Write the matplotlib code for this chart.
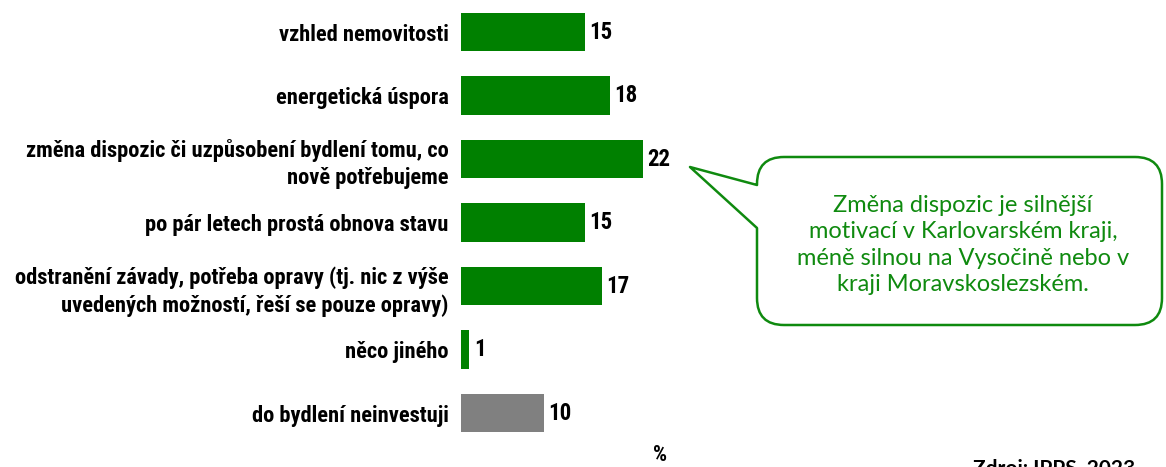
import matplotlib
matplotlib.use("Agg")
import matplotlib.pyplot as plt
from matplotlib import font_manager
from matplotlib.path import Path
from matplotlib.patches import PathPatch
import matplotlib.transforms as mtransforms

# data
categories = [
    "vzhled nemovitosti",
    "energetická úspora",
    "změna dispozic či uzpůsobení bydlení tomu, co\nnově potřebujeme",
    "po pár letech prostá obnova stavu",
    "odstranění závady, potřeba opravy (tj. nic z výše\nuvedených možností, řeší se pouze opravy)",
    "něco jiného",
    "do bydlení neinvestuji",
]
values = [15, 18, 22, 15, 17, 1, 10]
bar_colors = ["#008000"] * 6 + ["#808080"]
note = ("Změna dispozic je silnější\nmotivací v Karlovarském kraji,\n"
        "méně silnou na Vysočině nebo v\nkraji Moravskoslezském.")
source = "Zdroj: IPPS, 2023"

# pick a narrow heavy font if there is one
names = {f.name for f in font_manager.fontManager.ttflist}
cond = None
for cand in ["Roboto Condensed", "Open Sans Condensed", "Liberation Sans Narrow"]:
    if cand in names:
        cond = cand
        break
if cond is None:
    lab_font = dict(family="DejaVu Sans", fontstretch="condensed", fontweight="bold")
else:
    lab_font = dict(family=cond, fontweight="heavy")

W, H = 1166, 467
fig = plt.figure(figsize=(W / 100, H / 100), dpi=100)

px_per_unit = 8.27
xmax = 40
ax_left = 461
ax = fig.add_axes([ax_left / W, 22.25 / H, xmax * px_per_unit / W, 444.5 / H])
ypos = list(range(len(categories)))
ax.barh(ypos, values, height=0.61, color=bar_colors)
ax.set_xlim(0, xmax)
ax.set_ylim(len(categories) - 0.5, -0.5)
ax.set_yticks(ypos)
ax.set_yticklabels(categories, fontsize=16.2, linespacing=1.32, **lab_font)
ax.tick_params(axis="y", length=0, pad=9)
ax.set_xticks([])
for s in ax.spines.values():
    s.set_visible(False)
ax.patch.set_alpha(0)

for y, v in zip(ypos, values):
    ax.text(v + 0.55, y, str(v), va="center", ha="left", fontsize=16.5, **lab_font)

# "%" below the plot
fig.text(660 / W, 1 - 455 / H, "%", ha="center", va="center", fontsize=16, **lab_font)

# speech bubble callout, drawn in pixel coords (y from top)
pix = mtransforms.Affine2D().scale(1 / W, -1 / H).translate(0, 1) + fig.transFigure
L, R, T, B, r = 757, 1162, 157, 325, 27
verts = [
    (L, 228), (L, B - r), (L, B), (L + r, B), (R - r, B), (R, B), (R, B - r),
    (R, T + r), (R, T), (R - r, T), (L + r, T), (L, T), (L, T + r),
    (L, 185), (690, 167), (L, 228), (L, 228),
]
codes = [Path.MOVETO, Path.LINETO, Path.CURVE3, Path.CURVE3, Path.LINETO, Path.CURVE3, Path.CURVE3,
         Path.LINETO, Path.CURVE3, Path.CURVE3, Path.LINETO, Path.CURVE3, Path.CURVE3,
         Path.LINETO, Path.LINETO, Path.LINETO, Path.CLOSEPOLY]
fig.patches.append(PathPatch(Path(verts, codes), transform=pix, facecolor="white",
                             edgecolor="#0f8a0f", linewidth=1.8, joinstyle="round"))
fig.text(963 / W, 1 - 245 / H, note, ha="center", va="center", color="#0f8a0f",
         fontsize=17, family="Lato", linespacing=1.3)

# source line, cut by the bottom edge as in the original
fig.text(973 / W, 1 - 459 / H, source, ha="left", va="top", fontsize=15,
         fontweight="bold", family="Lato")

fig.savefig("out.png", dpi=100)
